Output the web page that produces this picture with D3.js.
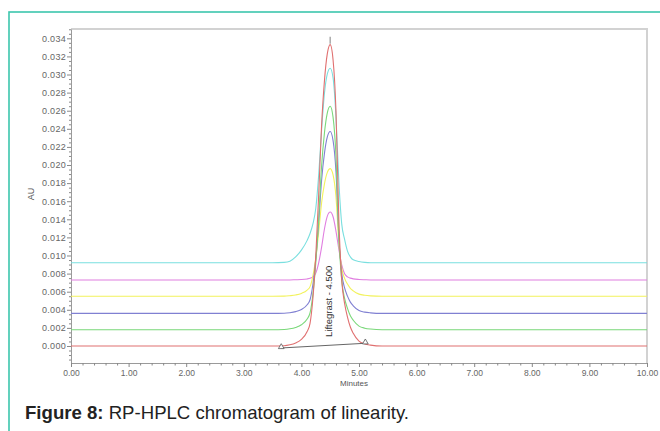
<!DOCTYPE html>
<html><head><meta charset="utf-8">
<script src="https://cdn.jsdelivr.net/npm/d3@7"></script>
<style>
html,body{margin:0;padding:0;background:#fff;}
svg{display:block;}
</style></head>
<body>
<svg id="chart" width="660" height="431"></svg>
<script>
// ---- data ----
const minutes = [0, 3.5, 3.7, 3.8, 3.9, 4.0, 4.1, 4.15, 4.2, 4.25, 4.3, 4.35, 4.4, 4.45, 4.5, 4.55, 4.6, 4.65, 4.7, 4.75, 4.8, 4.85, 4.9, 5.0, 5.1, 5.2, 5.4, 10];
const cyanAU    = [0.0092,0.0092,0.00924,0.00937,0.00985,0.0106,0.01167,0.01243,0.0135,0.01522,0.01888,0.02382,0.02791,0.03006,0.0307,0.02963,0.02533,0.01823,0.0135,0.01178,0.01049,0.00985,0.00952,0.00933,0.00924,0.0092,0.0092,0.0092];
const magentaAU = [0.0073,0.0073,0.0073,0.0073,0.00732,0.00734,0.00741,0.00749,0.00764,0.00805,0.00918,0.0109,0.01293,0.01435,0.0148,0.01428,0.0127,0.01068,0.00895,0.00798,0.00764,0.0075,0.00742,0.00735,0.00732,0.0073,0.0073,0.0073];
const yellowAU  = [0.0055,0.0055,0.00551,0.00556,0.00564,0.00581,0.00618,0.00656,0.00776,0.00973,0.01255,0.01579,0.01791,0.01918,0.0196,0.0189,0.0165,0.01142,0.0086,0.00747,0.00684,0.00637,0.00609,0.00573,0.0056,0.00554,0.0055,0.0055];
const blueAU    = [0.0036,0.0036,0.00362,0.00368,0.0038,0.00404,0.00456,0.00511,0.00682,0.00963,0.01365,0.01827,0.02129,0.0231,0.0237,0.0227,0.01928,0.01204,0.00802,0.00641,0.00551,0.00485,0.00444,0.00392,0.00374,0.00366,0.0036,0.0036];
const greenAU   = [0.0018,0.0018,0.00183,0.0019,0.00205,0.00234,0.00299,0.00365,0.00575,0.00921,0.01415,0.01983,0.02354,0.02576,0.0265,0.02527,0.02107,0.01217,0.00723,0.00526,0.00415,0.00333,0.00284,0.0022,0.00197,0.00187,0.0018,0.0018];
const redAU     = [0,0,0.00003,0.00013,0.00033,0.00073,0.0016,0.0025,0.0053,0.0100,0.0167,0.0243,0.0293,0.0323,0.0333,0.0316,0.0260,0.0140,0.0073,0.0047,0.0032,0.0021,0.0014,0.00053,0.00023,0.0001,0,0];
const seriesNames  = ["cyan","magenta","yellow","blue","green","red"];
const seriesValues = [cyanAU, magentaAU, yellowAU, blueAU, greenAU, redAU];
const seriesColors = ["#7adfdf","#e07ee0","#f2f25c","#8080d2","#7ad87a","#e07070"];
const yTickValues = [0,0.002,0.004,0.006,0.008,0.010,0.012,0.014,0.016,0.018,0.020,0.022,0.024,0.026,0.028,0.030,0.032,0.034];
const xTickValues = [0,1,2,3,4,5,6,7,8,9,10];
const peakLabel = "Liftegrast - 4.500";
const peakTime = 4.5;
const integStart = [3.65, -0.00022];
const integEnd = [5.11, 0.00030];

// ---- layout ----
const FONT = "Liberation Sans, Arial, sans-serif";
const svg = d3.select("#chart");
const x = d3.scaleLinear().domain([0,10]).range([71,647]);
const y = d3.scaleLinear().domain([-0.00188,0.03503]).range([363,29]);

// teal frame
svg.append("rect").attr("x",9).attr("y",12).attr("width",720).attr("height",500)
  .attr("fill","none").attr("stroke","#3cc6ad").attr("stroke-width",1.6);

// plot frame (top & right)
svg.append("path")
  .attr("d",`M${x(0)},${y.range()[1]}H${x(10)}V${y.range()[0]}`)
  .attr("fill","none").attr("stroke","#d2d2d2").attr("stroke-width",2);

// y axis
const yMinor = d3.range(-0.0015,0.0350,0.0005).filter(v=>Math.abs(Math.round(v/0.002)*0.002-v)>1e-6);
const gy = svg.append("g").attr("transform",`translate(${x(0)},0)`);
gy.call(d3.axisLeft(y).tickValues(yTickValues).tickFormat(d3.format(".3f")).tickSize(4).tickSizeOuter(0).tickPadding(1));
gy.selectAll(".tick text").style("font-size","9px").style("letter-spacing","0.3px");
gy.append("g").call(d3.axisLeft(y).tickValues(yMinor).tickFormat("").tickSize(2).tickSizeOuter(0))
  .select(".domain").remove();
// x axis
const xMinor = d3.range(0,10.01,0.2).filter(v=>Math.abs(Math.round(v)-v)>1e-6);
const gx = svg.append("g").attr("transform",`translate(0,${y.range()[0]})`);
gx.call(d3.axisBottom(x).tickValues(xTickValues).tickFormat(d3.format(".2f")).tickSize(4).tickSizeOuter(0).tickPadding(3));
gx.selectAll(".tick text").style("font-size","8.5px");
gx.append("g").call(d3.axisBottom(x).tickValues(xMinor).tickFormat("").tickSize(2.5).tickSizeOuter(0))
  .select(".domain").remove();

svg.selectAll(".domain").attr("stroke","#9a9a9a");
svg.selectAll(".tick line").attr("stroke","#888");
svg.selectAll(".tick text").attr("fill","#666").style("font-family",FONT);

// axis titles
svg.append("text").attr("transform","translate(34,194) rotate(-90)").attr("text-anchor","middle")
  .attr("fill","#555").style("font-family",FONT).style("font-size","9px").text("AU");
svg.append("text").attr("x",354).attr("y",386).attr("text-anchor","middle")
  .attr("fill","#555").style("font-family",FONT).style("font-size","8px").text("Minutes");

// series
const line = d3.line().x((d,i)=>x(minutes[i])).y(d=>y(d)).curve(d3.curveMonotoneX);
svg.append("g").selectAll("path").data(seriesValues).join("path")
  .attr("d",line).attr("fill","none")
  .attr("stroke",(d,i)=>seriesColors[i]).attr("stroke-width",1.1);

// integration baseline
svg.append("line").attr("x1",x(integStart[0])).attr("y1",y(integStart[1]))
  .attr("x2",x(integEnd[0])).attr("y2",y(integEnd[1]))
  .attr("stroke","#666").attr("stroke-width",1);
svg.append("g").selectAll("path").data([integStart,integEnd]).join("path")
  .attr("transform",d=>`translate(${x(d[0])},${y(d[1])-1})`)
  .attr("d",d3.symbol(d3.symbolTriangle).size(14))
  .attr("fill","#fff").attr("stroke","#555").attr("stroke-width",0.8);

// peak marker
const peakMax = d3.max(redAU);
svg.append("line").attr("x1",x(peakTime)).attr("x2",x(peakTime))
  .attr("y1",y(peakMax)-1).attr("y2",y(peakMax)-8)
  .attr("stroke","#aaa").attr("stroke-width",1.5);

// peak label
svg.append("text").attr("transform",`translate(${x(peakTime)+1.5},337) rotate(-90)`)
  .attr("text-anchor","start").attr("fill","#333")
  .style("font-family",FONT).style("font-size","9.5px").text(peakLabel);

// caption
const cap = svg.append("text").attr("x",25).attr("y",419)
  .style("font-family",FONT).style("font-size","18.6px").attr("fill","#222");
cap.append("tspan").attr("font-weight","bold").text("Figure 8:");
cap.append("tspan").text(" RP-HPLC chromatogram of linearity.");
</script>
</body></html>
